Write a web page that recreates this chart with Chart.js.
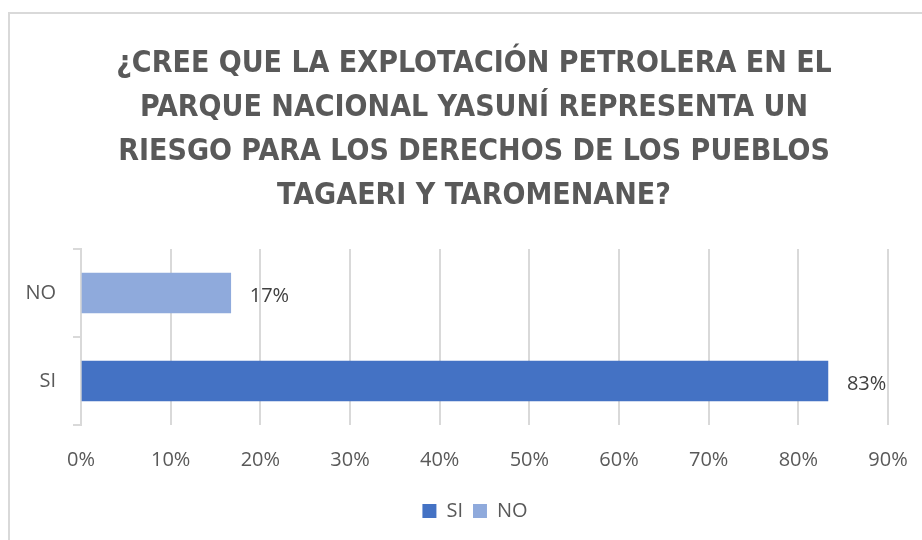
<!DOCTYPE html>
<html>
<head>
<meta charset="utf-8">
<script src="https://cdn.jsdelivr.net/npm/chart.js@4/dist/chart.umd.min.js"></script>
<style>
  html, body { margin: 0; padding: 0; background: #ffffff; width: 922px; height: 540px; overflow: hidden; }
  #frame { position: absolute; left: 8px; top: 12px; width: 1000px; height: 600px; border: 2px solid #d9d9d9; box-sizing: border-box; }
  #wrap { position: absolute; left: 0; top: 0; width: 922px; height: 540px; }
</style>
</head>
<body>
<div id="frame"></div>
<div id="wrap"><canvas id="c" width="922" height="540"></canvas></div>
<script>
const titleLines = [
  "¿CREE QUE LA EXPLOTACIÓN PETROLERA EN EL",
  "PARQUE NACIONAL YASUNÍ REPRESENTA UN",
  "RIESGO PARA LOS DERECHOS DE LOS PUEBLOS",
  "TAGAERI Y TAROMENANE?"
];
const categories = ["NO", "SI"];
const seriesNames = ["SI", "NO"];
const siValues = [null, 83.3];
const noValues = [16.7, null];
const tickValues = [0, 10, 20, 30, 40, 50, 60, 70, 80, 90];

const TEXT_FONT = "'Open Sans', 'Liberation Sans', sans-serif";

const dataLabels = {
  id: 'dataLabels',
  afterDatasetsDraw(chart) {
    const ctx = chart.ctx;
    ctx.save();
    ctx.font = "20px " + TEXT_FONT;
    ctx.fillStyle = '#404040';
    ctx.textAlign = 'left';
    ctx.textBaseline = 'middle';
    chart.data.datasets.forEach((ds, i) => {
      const meta = chart.getDatasetMeta(i);
      meta.data.forEach((el, j) => {
        const v = ds.data[j];
        if (v === null || v === undefined) return;
        ctx.fillText(Math.round(v) + '%', el.x + 19, el.y + 3);
      });
    });
    ctx.restore();
  }
};

// The original frame is wider than the picture, so title and legend sit right of the canvas centre.
const shiftBlocks = {
  id: 'shiftBlocks',
  afterLayout(chart) {
    if (chart.legend) {
      chart.legend.left += 31;
      chart.legend.right += 31;
    }
    if (chart.titleBlock) {
      chart.titleBlock.left += 30;
      chart.titleBlock.right += 30;
    }
  }
};

new Chart(document.getElementById('c'), {
  type: 'bar',
  data: {
    labels: categories,
    datasets: [
      { label: seriesNames[0], data: siValues, backgroundColor: '#4472C4', borderWidth: 0, barThickness: 40 },
      { label: seriesNames[1], data: noValues, backgroundColor: '#8FAADC', borderWidth: 0, barThickness: 40 }
    ]
  },
  options: {
    indexAxis: 'y',
    responsive: false,
    animation: false,
    layout: { padding: { left: 0, right: 34, top: 0, bottom: 9 } },
    plugins: {
      title: {
        display: true,
        text: titleLines,
        color: '#595959',
        font: { family: "'DejaVu Sans Condensed', 'Liberation Sans', sans-serif", size: 30, weight: 'bold', lineHeight: 1.467 },
        padding: { top: 42, bottom: 31 }
      },
      legend: {
        position: 'bottom',
        labels: {
          color: '#595959',
          font: { family: TEXT_FONT, size: 20 },
          boxWidth: 14,
          boxHeight: 14,
          padding: 10
        }
      },
      tooltip: { enabled: false }
    },
    scales: {
      x: {
        min: 0,
        max: 90,
        afterBuildTicks(axis) { axis.ticks = tickValues.map(v => ({ value: v })); },
        afterFit(axis) { axis.height = 66; axis.paddingLeft = 0; axis.paddingRight = 0; },
        ticks: {
          color: '#595959',
          font: { family: TEXT_FONT, size: 20 },
          padding: 23,
          callback: v => v + '%'
        },
        grid: { color: '#d9d9d9', lineWidth: 2, drawTicks: false },
        border: { display: false }
      },
      y: {
        stacked: true,
        afterFit(axis) { axis.width = 81; },
        ticks: {
          color: '#595959',
          font: { family: TEXT_FONT, size: 20 },
          padding: 17
        },
        grid: { offset: true, drawOnChartArea: false, tickLength: 8, color: '#d9d9d9', lineWidth: 2 },
        border: { display: true, color: '#d9d9d9', width: 2 }
      }
    }
  },
  plugins: [dataLabels, shiftBlocks]
});
</script>
</body>
</html>
